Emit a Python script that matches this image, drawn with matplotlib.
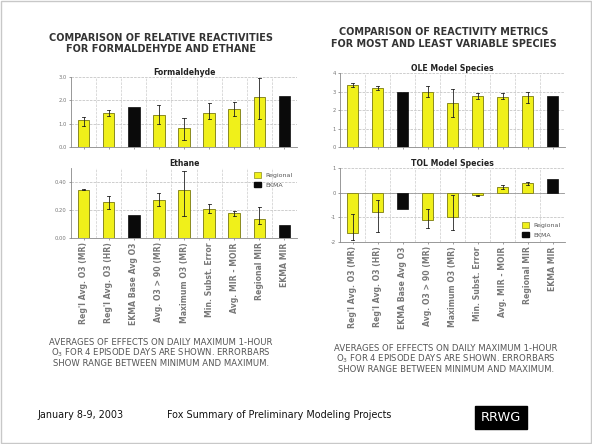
import numpy as np
import matplotlib
matplotlib.use("Agg")
import matplotlib.pyplot as plt
from matplotlib.patches import Rectangle, Patch

W, H = 592, 444

CATS = ["Reg'l Avg. O3 (MR)", "Reg'l Avg. O3 (HR)", "EKMA Base Avg O3",
        "Avg. O3 > 90 (MR)", "Maximum O3 (MR)", "Min. Subst. Error",
        "Avg. MIR - MOIR", "Regional MIR", "EKMA MIR"]
IS_EKMA = [False, False, True, False, False, False, False, False, True]

# Formaldehyde
form_val = [1.16, 1.47, 1.72, 1.37, 0.82, 1.47, 1.63, 2.15, 2.19]
form_lo  = [0.90, 1.35, None, 1.00, 0.30, 1.20, 1.35, 1.20, None]
form_hi  = [1.30, 1.60, None, 1.80, 1.25, 1.90, 1.95, 2.95, None]
# Ethane
eth_val = [0.345, 0.26, 0.165, 0.27, 0.34, 0.207, 0.176, 0.136, 0.094]
eth_lo  = [0.340, 0.21, None, 0.23, 0.16, 0.18, 0.16, 0.10, None]
eth_hi  = [0.350, 0.30, None, 0.32, 0.48, 0.24, 0.19, 0.22, None]
# OLE model species
ole_val = [3.35, 3.19, 3.00, 2.95, 2.38, 2.76, 2.69, 2.76, 2.76]
ole_lo  = [3.25, 3.10, None, 2.70, 1.60, 2.60, 2.60, 2.40, None]
ole_hi  = [3.45, 3.30, None, 3.30, 3.15, 2.90, 2.90, 3.00, None]
# TOL model species
tol_val = [-1.63, -0.80, -0.65, -1.10, -1.00, -0.10, 0.24, 0.41, 0.54]
tol_lo  = [-1.90, -1.60, None, -1.45, -1.50, -0.12, 0.15, 0.30, None]
tol_hi  = [-0.85, -0.30, None, -0.65, -0.10, -0.08, 0.30, 0.45, None]

YEL = "#f0f01a"
YEL_EDGE = "#8a8a20"
BLK = "#0a0a0a"
TXT = "#333333"

fig = plt.figure(figsize=(W / 100, H / 100), dpi=100)
fig.patch.set_facecolor("white")


def px_axes(x0, y0, x1, y1):
    return fig.add_axes([x0 / W, 1 - y1 / H, (x1 - x0) / W, (y1 - y0) / H])


def ftext(x, y, s, **kw):
    fig.text(x / W, 1 - y / H, s, **kw)


def panel(ax, title, vals, lo, hi, ylim, ticks, labels, show_x=False):
    x = np.arange(len(vals))
    for i, v in enumerate(vals):
        if IS_EKMA[i]:
            ax.bar(x[i], v, 0.46, color=BLK, edgecolor=BLK, lw=0.5, zorder=3)
        else:
            ax.bar(x[i], v, 0.46, color=YEL, edgecolor=YEL_EDGE, lw=0.7, zorder=3)
            ax.plot([x[i], x[i]], [lo[i], hi[i]], color="#222", lw=0.6, zorder=4)
            ax.plot([x[i] - 0.06, x[i] + 0.06], [hi[i], hi[i]], color="#222", lw=0.6, zorder=4)
            ax.plot([x[i] - 0.06, x[i] + 0.06], [lo[i], lo[i]], color="#222", lw=0.6, zorder=4)
    ax.set_xlim(-0.5, len(vals) - 0.5)
    ax.set_ylim(*ylim)
    ax.set_yticks(ticks)
    ax.set_yticklabels(labels, fontsize=3.8, color="#555")
    for t in ticks:
        ax.axhline(t, color="#bbbbbb", lw=0.5, ls="--", zorder=1)
    if ylim[0] < 0:
        ax.axhline(0, color="#999999", lw=0.6, zorder=2)
    for b in np.arange(0.5, len(vals) - 0.5, 1.0):
        ax.axvline(b, color="#cccccc", lw=0.5, ls="--", zorder=1)
    ax.set_xticks(x)
    if show_x:
        ax.set_xticklabels(CATS, rotation=90, fontsize=5.6, color="#1a1a1a",
                           fontweight="bold")
    else:
        ax.set_xticklabels([])
    ax.tick_params(length=1.5, width=0.5, pad=1.5, colors="#777")
    for sp in ["top", "right"]:
        ax.spines[sp].set_visible(False)
    for sp in ["left", "bottom"]:
        ax.spines[sp].set_color("#888888")
        ax.spines[sp].set_linewidth(0.6)
    ax.set_title(title, fontsize=5.6, color="#222", pad=1.5, fontweight="bold")


def legend(ax, loc):
    h = [Patch(facecolor=YEL, edgecolor=YEL_EDGE, lw=0.5, label="Regional"),
         Patch(facecolor=BLK, edgecolor=BLK, label="EKMA")]
    ax.legend(handles=h, loc=loc, fontsize=4.5, frameon=False,
              handlelength=1.0, handleheight=0.9, labelspacing=0.6,
              borderaxespad=0.3, labelcolor="#555")


# left column
ftext(161, 38, "COMPARISON OF RELATIVE REACTIVITIES", ha="center", va="center",
      fontsize=7.0, fontweight="bold", color=TXT)
ftext(161, 49, "FOR FORMALDEHYDE AND ETHANE", ha="center", va="center",
      fontsize=7.0, fontweight="bold", color=TXT)

ax1 = px_axes(71, 77, 297, 147)
panel(ax1, "Formaldehyde", form_val, form_lo, form_hi, (0, 3.0),
      [0, 1, 2, 3], ["0.0", "1.0", "2.0", "3.0"])
ax2 = px_axes(71, 168, 297, 238)
panel(ax2, "Ethane", eth_val, eth_lo, eth_hi, (0, 0.5),
      [0, 0.2, 0.4], ["0.00", "0.20", "0.40"], show_x=True)
legend(ax2, "upper right")

# right column
ftext(444, 32, "COMPARISON OF REACTIVITY METRICS", ha="center", va="center",
      fontsize=6.9, fontweight="bold", color=TXT)
ftext(444, 44, "FOR MOST AND LEAST VARIABLE SPECIES", ha="center", va="center",
      fontsize=6.9, fontweight="bold", color=TXT)

ax3 = px_axes(340, 73, 565, 147)
panel(ax3, "OLE Model Species", ole_val, ole_lo, ole_hi, (0, 4),
      [0, 1, 2, 3, 4], ["0", "1", "2", "3", "4"])
ax4 = px_axes(340, 168, 565, 242)
panel(ax4, "TOL Model Species", tol_val, tol_lo, tol_hi, (-2, 1),
      [-2, -1, 0, 1], ["-2", "-1", "0", "1"], show_x=True)
legend(ax4, "lower right")

# captions
cap = ["AVERAGES OF EFFECTS ON DAILY MAXIMUM 1-HOUR",
       "O$_3$ FOR 4 EPISODE DAYS ARE SHOWN. ERRORBARS",
       "SHOW RANGE BETWEEN MINIMUM AND MAXIMUM."]
for k, line in enumerate(cap):
    ftext(161, 342 + 10.5 * k, line, ha="center", va="center", fontsize=6.1, color="#555")
    ftext(446, 348 + 10.5 * k, line, ha="center", va="center", fontsize=6.1, color="#555")

# footer
ftext(37, 415, "January 8-9, 2003", ha="left", va="center", fontsize=6.9, color="#111")
ftext(167, 415, "Fox Summary of Preliminary Modeling Projects", ha="left",
      va="center", fontsize=6.9, color="#111")
fig.patches.append(Rectangle((475 / W, 1 - 429 / H), 52 / W, 23 / H,
                             transform=fig.transFigure, color="black"))
ftext(501, 417.5, "RRWG", ha="center", va="center", fontsize=9.3, color="white")

# slide frame
fig.patches.append(Rectangle((1 / W, 1 / H), (W - 2) / W, (H - 2) / H,
                             transform=fig.transFigure, fill=False,
                             edgecolor="#c8c8c8", lw=1))

fig.savefig("out.png", dpi=100, facecolor="white")
